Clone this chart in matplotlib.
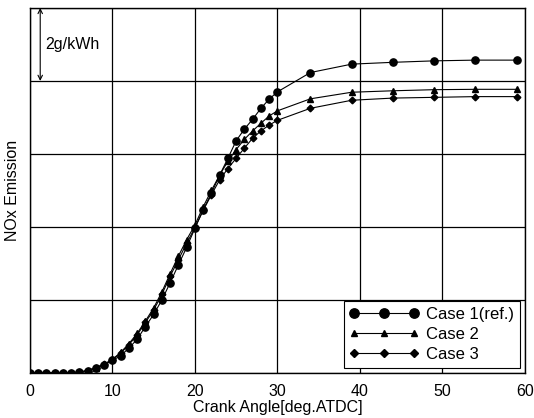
import matplotlib
matplotlib.use("Agg")
import matplotlib.pyplot as plt
import numpy as np

plt.rcParams['font.family'] = ['Liberation Sans', 'DejaVu Sans']

# crank angle positions of the markers
angle = [0, 1, 2, 3, 4, 5, 6, 7, 8, 9, 10, 11, 12, 13, 14, 15, 16, 17, 18, 19, 20,
         21, 22, 23, 24, 25, 26, 27, 28, 29, 30, 34, 39, 44, 49, 54, 59]

# NOx emission (g/kWh)
case1 = [0, 0, 0, 0, 0, 0, 0.02, 0.06, 0.13, 0.22, 0.34, 0.47, 0.68, 0.92, 1.27, 1.6, 2.0,
         2.47, 2.96, 3.44, 3.96, 4.47, 4.92, 5.42, 5.88, 6.36, 6.68, 6.95, 7.25, 7.5, 7.7,
         8.23, 8.46, 8.51, 8.55, 8.57, 8.57]
case2 = [0, 0, 0, 0, 0, 0, 0.02, 0.06, 0.14, 0.24, 0.37, 0.56, 0.8, 1.08, 1.42, 1.78, 2.22,
         2.72, 3.2, 3.65, 4.05, 4.55, 5.0, 5.42, 5.8, 6.12, 6.4, 6.63, 6.84, 7.04, 7.18,
         7.51, 7.69, 7.73, 7.76, 7.77, 7.77]
case3 = [0, 0, 0, 0, 0, 0, 0.02, 0.06, 0.14, 0.23, 0.36, 0.54, 0.77, 1.04, 1.38, 1.72, 2.15,
         2.65, 3.1, 3.55, 3.98, 4.45, 4.88, 5.29, 5.6, 5.88, 6.16, 6.43, 6.63, 6.79, 6.92,
         7.25, 7.47, 7.53, 7.55, 7.57, 7.57]

xticks = [0, 10, 20, 30, 40, 50, 60]

fig = plt.figure(figsize=(5.34, 4.18), dpi=100)
ax = fig.add_axes([0.056, 0.108, 0.927, 0.873])

ax.plot(angle, case1, color="black", lw=0.8, marker="o", ms=5.2, label="Case 1(ref.)")
ax.plot(angle, case2, color="black", lw=0.8, marker="^", ms=3.8, label="Case 2")
ax.plot(angle, case3, color="black", lw=0.8, marker="D", ms=3.4, label="Case 3")

ax.set_xlim(0, 60)
ax.set_ylim(0, 10)
ax.set_xticks(xticks)
ax.set_yticks([0, 2, 4, 6, 8, 10])
ax.set_yticklabels([])
ax.tick_params(length=0, labelsize=11.5)
ax.tick_params(axis="x", pad=8)
ax.grid(True, color="black", lw=0.9)
for s in ax.spines.values():
    s.set_linewidth(1.0)

ax.set_xlabel("Crank Angle[deg.ATDC]", fontsize=11.5, labelpad=1)
ax.set_ylabel("NOx Emission", fontsize=11.5, va="center")
ax.yaxis.set_label_coords(-0.036, 0.5)

# scale arrow: one grid step = 2 g/kWh
ax.annotate("", xy=(1.25, 10), xytext=(1.25, 8),
            arrowprops=dict(arrowstyle="<->", color="black", lw=0.8,
                            shrinkA=0, shrinkB=0, mutation_scale=8))
ax.text(1.9, 9.0, "2g/kWh", fontsize=11.5, va="center", ha="left")

leg = ax.legend(loc="lower right", numpoints=3, fontsize=12, frameon=True,
                fancybox=False, edgecolor="black", framealpha=1,
                handlelength=4.2, handletextpad=0.4, borderaxespad=0.3,
                labelspacing=0.3, borderpad=0.35, markerscale=1.3)
leg.get_frame().set_linewidth(0.8)

fig.savefig("out.png", dpi=100)
